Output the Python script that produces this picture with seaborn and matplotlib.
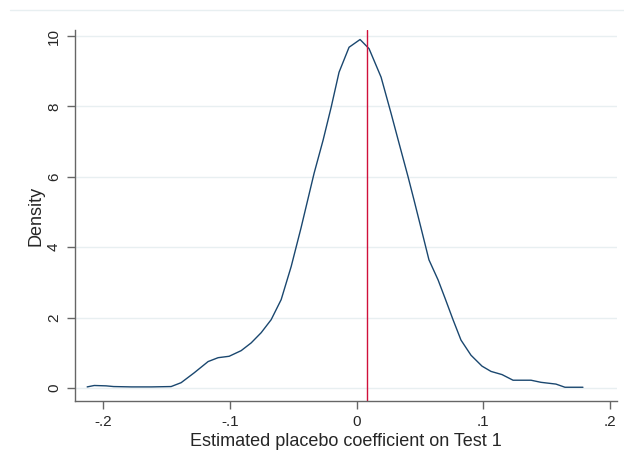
import numpy as np
import pandas as pd
import seaborn as sns
import matplotlib.pyplot as plt
from matplotlib.lines import Line2D

# kernel density of placebo coefficients
coef = [-0.2129, -0.2073, -0.198, -0.192, -0.178, -0.162, -0.1466, -0.1387,
        -0.1284, -0.1174, -0.1095, -0.1008, -0.0913, -0.0834, -0.0755, -0.0676,
        -0.0597, -0.0518, -0.044, -0.0337, -0.0266, -0.0202, -0.014, -0.0061,
        0.0026, 0.0097, 0.0192, 0.0271, 0.0334, 0.0405, 0.0452, 0.0507,
        0.057, 0.0642, 0.0697, 0.076, 0.0823, 0.0902, 0.0989, 0.106,
        0.1147, 0.1234, 0.1305, 0.1376, 0.1455, 0.1573, 0.1644, 0.1786]
density = [0.03, 0.07, 0.06, 0.04, 0.03, 0.03, 0.04, 0.15,
           0.43, 0.75, 0.86, 0.90, 1.06, 1.28, 1.57, 1.94,
           2.51, 3.45, 4.55, 6.1, 7.04, 7.98, 8.97, 9.68,
           9.9, 9.64, 8.83, 7.8, 6.95, 6.0, 5.34, 4.55,
           3.64, 3.07, 2.55, 1.94, 1.36, 0.93, 0.62, 0.47,
           0.38, 0.22, 0.22, 0.22, 0.16, 0.11, 0.02, 0.02]
true_coef = 0.0084
x_ticks = [-0.2, -0.1, 0, 0.1, 0.2]
x_labels = ["-.2", "-.1", "0", ".1", ".2"]
y_ticks = [0, 2, 4, 6, 8, 10]

df = pd.DataFrame({"coef": coef, "density": density})

sns.set_style("white")
plt.rcParams["font.family"] = ["Liberation Sans", "DejaVu Sans"]

fig = plt.figure(figsize=(6.24, 4.59), dpi=100)
ax = fig.add_axes([0.1202, 0.1264, 0.8686, 0.8082])

sns.lineplot(x="coef", y="density", data=df, ax=ax, color="#1a476f",
             linewidth=1.0, sort=False)
ax.axvline(true_coef, color="#d0103a", linewidth=1.0)

ax.set_xlim(-0.2225, 0.2055)
ax.set_ylim(-0.37, 10.17)
ax.set_xticks(x_ticks)
ax.set_xticklabels(x_labels)
ax.set_yticks(y_ticks)
ax.set_yticklabels([str(v) for v in y_ticks], rotation=90, va="center")

ax.grid(axis="y", color="#e8eff1", linewidth=1.0)
ax.set_axisbelow(True)
for side in ["top", "right"]:
    ax.spines[side].set_visible(False)
for side in ["left", "bottom"]:
    ax.spines[side].set_color("#666666")
    ax.spines[side].set_linewidth(1.0)
ax.tick_params(axis="both", direction="out", length=6, width=1.0,
               color="#666666", labelsize=11, pad=4,
               left=True, bottom=True)

ax.set_xlabel("Estimated placebo coefficient on Test 1", fontsize=13, labelpad=3)
ax.set_ylabel("Density", fontsize=13, labelpad=2)

# faint outer border line at the top of the graph region
fig.add_artist(Line2D([0.016, 1.0], [0.979, 0.979], transform=fig.transFigure,
                      color="#e8eff1", linewidth=1.0))

fig.savefig("out.png", dpi=100)
